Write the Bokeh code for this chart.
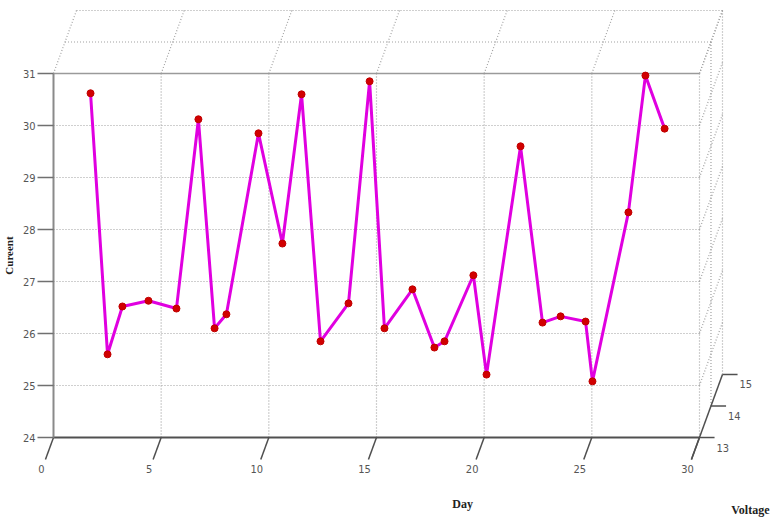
from bokeh.plotting import figure
from bokeh.models import LinearAxis, FixedTicker, Range1d, Label
from bokeh.core.properties import value
from bokeh.embed import file_html
from bokeh.resources import INLINE

# ---------------- data ----------------
day = [1.72, 2.51, 3.20, 4.41, 5.71, 6.73, 7.48, 8.03, 9.52, 10.63,
       11.52, 12.40, 13.70, 14.68, 15.37, 16.67, 17.69, 18.16, 19.50, 20.11,
       21.69, 22.71, 23.55, 24.71, 25.03, 26.70, 27.49, 28.38]
current = [30.62, 25.60, 26.52, 26.63, 26.48, 30.12, 26.10, 26.37, 29.85, 27.73,
           30.60, 25.85, 26.58, 30.85, 26.10, 26.85, 25.73, 25.85, 27.12, 25.21,
           29.60, 26.21, 26.33, 26.23, 25.08, 28.33, 30.96, 29.94]
day_ticks = [0, 5, 10, 15, 20, 25, 30]
current_ticks = [24, 25, 26, 27, 28, 29, 30, 31]
voltage_ticks = [13, 14, 15]

# oblique projection of the voltage (depth) axis onto the day/current plane
KX = 0.534   # days per volt
KY = 0.606   # current units per volt
V0 = voltage_ticks[0]


def proj(d, c, v):
    return d + (v - V0) * KX, c + (v - V0) * KY


W, H = 772, 521
X0, X1 = -2.4613, 33.391
Y0, Y1 = 22.385, 32.404

p = figure(width=W, height=H, x_range=Range1d(X0, X1), y_range=Range1d(Y0, Y1),
           x_axis_type=None, y_axis_type=None, toolbar_location=None,
           output_backend="svg", min_border=0)
p.outline_line_color = None
p.background_fill_color = "white"

dmin, dmax = day_ticks[0], day_ticks[-1]
cmin, cmax = current_ticks[0], current_ticks[-1]
vmin, vmax = voltage_ticks[0], voltage_ticks[-1]

# ---------------- dotted box grid ----------------
gx0, gy0, gx1, gy1 = [], [], [], []


def seg(a, b):
    ax, ay = proj(*a)
    bx, by = proj(*b)
    gx0.append(ax); gy0.append(ay); gx1.append(bx); gy1.append(by)


for c in current_ticks[1:-1]:
    seg((dmin, c, vmin), (dmax, c, vmin))
for d in day_ticks[1:]:
    seg((d, cmin, vmin), (d, cmax, vmin))
for d in day_ticks:
    seg((d, cmax, vmin), (d, cmax, vmax))
for v in voltage_ticks[1:]:
    seg((dmin, cmax, v), (dmax, cmax, v))
    seg((dmax, cmin, v), (dmax, cmax, v))
for c in current_ticks[1:]:
    seg((dmax, c, vmin), (dmax, c, vmax))

p.segment(x0=gx0, y0=gy0, x1=gx1, y1=gy1, line_color="#a0a0a0",
          line_width=1.2, line_dash="1 2")

# front top edge (solid)
p.segment(x0=[dmin], y0=[cmax], x1=[dmax], y1=[cmax], line_color="#9a9a9a", line_width=1.5)
# front bottom edge (day axis line)
p.segment(x0=[dmin], y0=[cmin], x1=[dmax], y1=[cmin], line_color="#505050", line_width=2)

# slanted day ticks
tx0, ty0, tx1, ty1 = [], [], [], []
for d in day_ticks:
    a = proj(d, cmin, vmin)
    b = proj(d, cmin, vmin - 0.7)
    tx0.append(a[0]); ty0.append(a[1]); tx1.append(b[0]); ty1.append(b[1])
p.segment(x0=tx0, y0=ty0, x1=tx1, y1=ty1, line_color="#505050", line_width=1.5)

# voltage axis (slanted) with horizontal ticks
va = proj(dmax, cmin, vmin - 0.7)
vb = proj(dmax, cmin, vmax)
p.segment(x0=[va[0]], y0=[va[1]], x1=[vb[0]], y1=[vb[1]], line_color="#505050", line_width=1.5)
vx = [proj(dmax, cmin, v)[0] for v in voltage_ticks]
vy = [proj(dmax, cmin, v)[1] for v in voltage_ticks]
p.segment(x0=vx, y0=vy, x1=[x + 0.7 for x in vx], y1=vy, line_color="#505050", line_width=1.5)
tick_font = "Liberation Sans Narrow, DejaVu Sans Condensed, Liberation Sans"
p.text(x=vx, y=vy, text=[str(v) for v in voltage_ticks], x_offset=17, y_offset=10,
       text_font=value(tick_font),
       text_font_size="11px", text_color="#555555", text_align="left", text_baseline="middle")

# ---------------- data line ----------------
p.line(day, current, line_color="#e000e0", line_width=3)
p.scatter(day, current, size=7, fill_color="#d10000", line_color="#c00000")

# ---------------- axes ----------------
yax = LinearAxis(fixed_location=dmin, bounds=(cmin, cmax),
                 ticker=FixedTicker(ticks=current_ticks, minor_ticks=[]))
yax.axis_line_color = "#8a8a8a"
yax.axis_line_width = 2
yax.major_tick_line_color = "#707070"
yax.major_tick_line_width = 1.5
yax.major_tick_out = 16
yax.major_tick_in = 0
yax.minor_tick_out = 0
yax.minor_tick_in = 0
yax.major_label_standoff = 2
yax.major_label_text_font = tick_font
yax.major_label_text_font_size = "11px"
yax.major_label_text_color = "#555555"
yax.axis_label = "Cureent"
yax.axis_label_text_font = "Liberation Serif"
yax.axis_label_text_font_style = "bold"
yax.axis_label_text_font_size = "11px"
yax.axis_label_text_color = "#222222"
yax.axis_label_standoff = 5
p.add_layout(yax, "left")

# day tick labels sit along the depth direction (shifted left of their ticks)
shift = 12 / (W / (X1 - X0))
p.extra_x_ranges = {"daylab": Range1d(X0 + shift, X1 + shift)}
xax = LinearAxis(x_range_name="daylab", fixed_location=cmin, bounds=(dmin, dmax),
                 ticker=FixedTicker(ticks=day_ticks, minor_ticks=[]))
xax.axis_line_color = None
xax.major_tick_out = 0
xax.major_tick_in = 0
xax.minor_tick_out = 0
xax.minor_tick_in = 0
xax.major_label_standoff = 27
xax.major_label_text_font = tick_font
xax.major_label_text_font_size = "11px"
xax.major_label_text_color = "#555555"
p.add_layout(xax, "below")

p.add_layout(Label(x=19.0, y=22.73, text="Day", text_align="center", text_baseline="middle",
                   text_font="Liberation Serif", text_font_style="bold",
                   text_font_size="12px", text_color="#222222"))
p.add_layout(Label(x=33.25, y=22.60, text="Voltage", text_align="right", text_baseline="middle",
                   text_font="Liberation Serif", text_font_style="bold",
                   text_font_size="12px", text_color="#222222"))

open("out.html", "w").write(file_html(p, INLINE))
